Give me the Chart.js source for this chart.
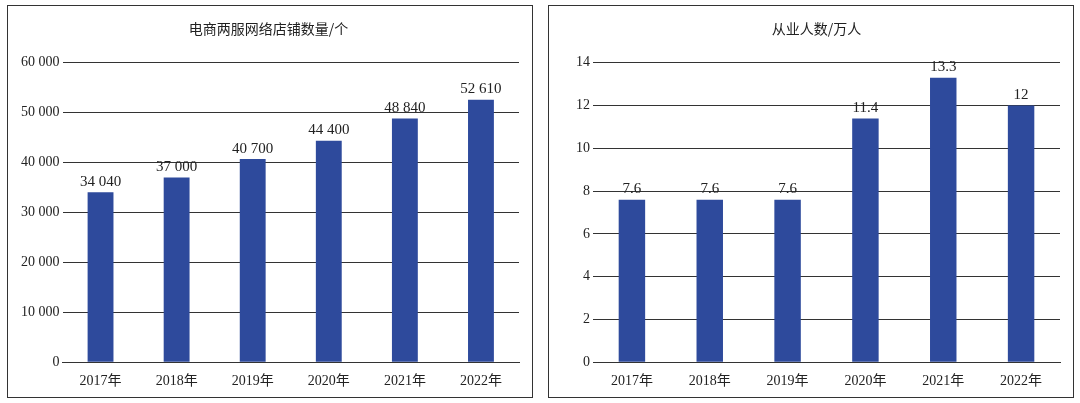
<!DOCTYPE html>
<html><head><meta charset="utf-8">
<script src="https://cdn.jsdelivr.net/npm/chart.js@4"></script>
<style>
body{margin:0;background:#fff;width:1080px;height:403px;position:relative;overflow:hidden}
.p{position:absolute;border:1.5px solid #333;box-sizing:border-box}
canvas{display:block}
</style></head><body>
<div class="p" style="left:7px;top:5px;width:526px;height:393px"><canvas id="c1"></canvas></div>
<div class="p" style="left:548px;top:5px;width:526px;height:393px"><canvas id="c2"></canvas></div>
<script>
const categories=['2017年','2018年','2019年','2020年','2021年','2022年'];
const shops=[34040,37000,40700,44400,48840,52610];
const workers=[7.6,7.6,7.6,11.4,13.3,12];
const title1='电商两服网络店铺数量/个';
const title2='从业人数/万人';
const fmt=v=>{const s=String(v);return s.length>3?s.slice(0,-3)+' '+s.slice(-3):s;};
const fmts={c1:fmt,c2:v=>String(v)};
const labelPlugin={id:'lbl',afterDatasetsDraw(ch){const ctx=ch.ctx;const m=ch.getDatasetMeta(0);const f=fmts[ch.canvas.id];ctx.save();ctx.fillStyle='#222';ctx.font='15px "Liberation Serif"';ctx.textAlign='center';ctx.textBaseline='bottom';
m.data.forEach((b,i)=>ctx.fillText(f(ch.data.datasets[0].data[i]),b.x,b.y-3));ctx.restore();}};
function make(id,data,title,max,step,tickFmt,padLeft){
 const c=document.getElementById(id);c.width=523;c.height=390;
 new Chart(c,{type:'bar',data:{labels:categories,datasets:[{data,backgroundColor:'#2e4a9c',barPercentage:0.34,categoryPercentage:1}]},
 plugins:[labelPlugin],
 options:{responsive:false,animation:false,
 layout:{padding:{left:padLeft,right:12,top:0,bottom:3}},
 plugins:{legend:{display:false},tooltip:{enabled:false},title:{display:true,text:title,color:'#222',font:{family:'"Noto Sans CJK SC"',size:14,weight:'normal'},padding:{top:14,bottom:26}}},
 scales:{x:{grid:{display:false},border:{color:'#333'},ticks:{color:'#222',font:{family:'"Liberation Serif", "Noto Sans CJK SC"',size:14}}},
 y:{min:0,max:max,ticks:{stepSize:step,color:'#222',callback:tickFmt,font:{family:'"Liberation Serif"',size:14}},grid:{color:'#333',drawTicks:false,lineWidth:1},border:{display:false}}}}});
}
make('c1',shops,title1,60000,10000,v=>fmt(v),10);
make('c2',workers,title2,14,2,v=>String(v),24);
</script></body></html>
